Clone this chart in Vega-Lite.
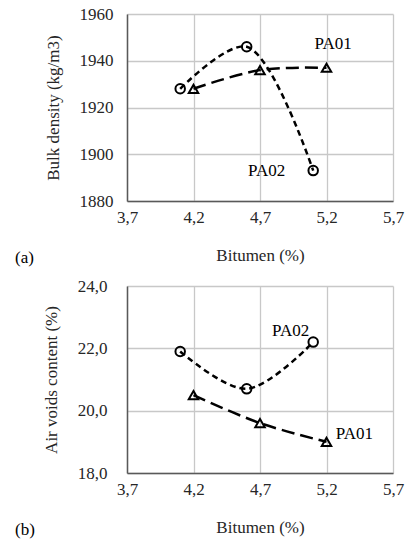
{
  "$schema": "https://vega.github.io/schema/vega-lite/v6.json",
  "background": "white",
  "padding": {"left": 15, "top": 5, "right": 5, "bottom": 5},
  "spacing": 11,
  "config": {
    "font": "Liberation Serif, serif",
    "view": {"stroke": null},
    "axis": {
      "labelFont": "Liberation Serif, serif",
      "titleFont": "Liberation Serif, serif",
      "labelFontSize": 17,
      "titleFontSize": 17,
      "titleFontWeight": "normal",
      "labelColor": "#262626",
      "titleColor": "#262626",
      "domainColor": "#595959",
      "domainWidth": 1.5,
      "ticks": false
    },
    "title": {"font": "Liberation Serif, serif", "fontSize": 17, "fontWeight": "normal", "color": "#000000"},
    "text": {"font": "Liberation Serif, serif"}
  },
  "datasets": {
    "pts": [
      {"panel": "a", "series": "PA02", "bitumen": 4.1, "value": 1928},
      {"panel": "a", "series": "PA02", "bitumen": 4.6, "value": 1946},
      {"panel": "a", "series": "PA02", "bitumen": 5.1, "value": 1893},
      {"panel": "a", "series": "PA01", "bitumen": 4.2, "value": 1928},
      {"panel": "a", "series": "PA01", "bitumen": 4.7, "value": 1936},
      {"panel": "a", "series": "PA01", "bitumen": 5.2, "value": 1937},
      {"panel": "b", "series": "PA02", "bitumen": 4.1, "value": 21.9},
      {"panel": "b", "series": "PA02", "bitumen": 4.6, "value": 20.7},
      {"panel": "b", "series": "PA02", "bitumen": 5.1, "value": 22.2},
      {"panel": "b", "series": "PA01", "bitumen": 4.2, "value": 20.5},
      {"panel": "b", "series": "PA01", "bitumen": 4.7, "value": 19.6},
      {"panel": "b", "series": "PA01", "bitumen": 5.2, "value": 19.0}
    ],
    "labels": [
      {"panel": "a", "text": "PA01", "bitumen": 5.25, "value": 1947.2},
      {"panel": "a", "text": "PA02", "bitumen": 4.75, "value": 1893},
      {"panel": "b", "text": "PA02", "bitumen": 4.93, "value": 22.56},
      {"panel": "b", "text": "PA01", "bitumen": 5.41, "value": 19.24}
    ]
  },
  "vconcat": [
    {
      "width": 266,
      "height": 187,
      "title": {"text": "(a)", "orient": "bottom", "anchor": "start", "frame": "group", "dx": -112, "offset": -13},
      "encoding": {
        "x": {"field": "bitumen", "type": "quantitative",
          "scale": {"domain": [3.7, 5.7], "nice": false, "zero": false},
          "axis": {"values": [3.7, 4.2, 4.7, 5.2, 5.7], "labelExpr": "replace(format(datum.value, '.1f'), '.', ',')", "title": "Bitumen (%)", "labelPadding": 8, "titlePadding": 22, "labelFlush": false, "grid": true, "gridColor": "#c8c8c8", "gridWidth": 1.3}},
        "y": {"field": "value", "type": "quantitative",
          "scale": {"domain": [1880, 1960], "nice": false, "zero": false},
          "axis": {"values": [1880, 1900, 1920, 1940, 1960], "format": "d", "title": "Bulk density (kg/m3)", "labelPadding": 14, "titlePadding": 17, "grid": true, "gridColor": "#c8c8c8", "gridWidth": 1.3}}
      },
      "layer": [
        {
          "data": {"name": "pts"},
          "transform": [{"filter": "datum.panel == 'a'"}],
          "mark": {"type": "line", "interpolate": "catmull-rom", "color": "black", "strokeWidth": 2.5},
          "encoding": {
            "detail": {"field": "series"},
            "strokeDash": {"field": "series", "type": "nominal", "scale": {"domain": ["PA01", "PA02"], "range": [[13, 6], [6, 4]]}, "legend": null}
          }
        },
        {
          "data": {"name": "pts"},
          "transform": [{"filter": "datum.panel == 'a'"}],
          "mark": {"type": "point", "filled": false, "color": "black", "strokeWidth": 2, "size": 90, "opacity": 1},
          "encoding": {
            "shape": {"field": "series", "type": "nominal", "scale": {"domain": ["PA01", "PA02"], "range": ["triangle-up", "circle"]}, "legend": null}
          }
        },
        {
          "data": {"name": "labels"},
          "transform": [{"filter": "datum.panel == 'a'"}],
          "mark": {"type": "text", "font": "Liberation Serif, serif", "fontSize": 17, "color": "#000000", "align": "center", "baseline": "middle"},
          "encoding": {"text": {"field": "text"}}
        }
      ]
    },
    {
      "width": 266,
      "height": 187,
      "title": {"text": "(b)", "orient": "bottom", "anchor": "start", "frame": "group", "dx": -112, "offset": -13},
      "encoding": {
        "x": {"field": "bitumen", "type": "quantitative",
          "scale": {"domain": [3.7, 5.7], "nice": false, "zero": false},
          "axis": {"values": [3.7, 4.2, 4.7, 5.2, 5.7], "labelExpr": "replace(format(datum.value, '.1f'), '.', ',')", "title": "Bitumen (%)", "labelPadding": 8, "titlePadding": 22, "labelFlush": false, "grid": true, "gridColor": "#c8c8c8", "gridWidth": 1.3}},
        "y": {"field": "value", "type": "quantitative",
          "scale": {"domain": [18, 24], "nice": false, "zero": false},
          "axis": {"values": [18, 20, 22, 24], "labelExpr": "replace(format(datum.value, '.1f'), '.', ',')", "title": "Air voids content (%)", "labelPadding": 20, "titlePadding": 17, "grid": true, "gridColor": "#c8c8c8", "gridWidth": 1.3}}
      },
      "layer": [
        {
          "data": {"name": "pts"},
          "transform": [{"filter": "datum.panel == 'b'"}],
          "mark": {"type": "line", "interpolate": "catmull-rom", "color": "black", "strokeWidth": 2.5},
          "encoding": {
            "detail": {"field": "series"},
            "strokeDash": {"field": "series", "type": "nominal", "scale": {"domain": ["PA01", "PA02"], "range": [[13, 6], [6, 4]]}, "legend": null}
          }
        },
        {
          "data": {"name": "pts"},
          "transform": [{"filter": "datum.panel == 'b'"}],
          "mark": {"type": "point", "filled": false, "color": "black", "strokeWidth": 2, "size": 90, "opacity": 1},
          "encoding": {
            "shape": {"field": "series", "type": "nominal", "scale": {"domain": ["PA01", "PA02"], "range": ["triangle-up", "circle"]}, "legend": null}
          }
        },
        {
          "data": {"name": "labels"},
          "transform": [{"filter": "datum.panel == 'b'"}],
          "mark": {"type": "text", "font": "Liberation Serif, serif", "fontSize": 17, "color": "#000000", "align": "center", "baseline": "middle"},
          "encoding": {"text": {"field": "text"}}
        }
      ]
    }
  ]
}
